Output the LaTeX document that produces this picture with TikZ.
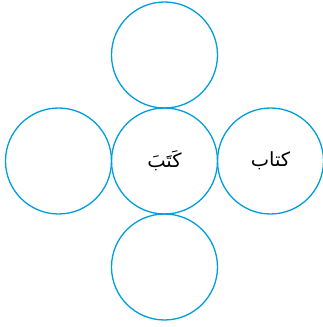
\documentclass[tikz,border=0pt]{standalone}
\usepackage{fontspec}
\usepackage{xcolor}
\usetikzlibrary{positioning}
\TeXXeTstate=1
\newfontfamily\arabicfont[Script=Arabic]{DejaVu Sans}
\definecolor{ringblue}{RGB}{0,158,219}
\tikzset{
  wordring/.style={circle,draw=ringblue,line width=1.3pt,minimum size=106pt,inner sep=0pt,outer sep=0pt,font=\arabicfont\fontsize{19.5}{21}\selectfont},
}

\begin{document}
\begin{tikzpicture}[x=1pt,y=1pt,node distance=0pt]
  \useasboundingbox (0,0) rectangle (323,327);
  \node[wordring] (root) at (164.5,166) {\beginR كَتَبَ\endR};
  \node[wordring,above=of root] (up) {};
  \node[wordring,below=of root] (down) {};
  \node[wordring,left=of root] (west) {};
  \node[wordring,right=of root] (east) {\beginR كتاب\endR};
\end{tikzpicture}
\end{document}
